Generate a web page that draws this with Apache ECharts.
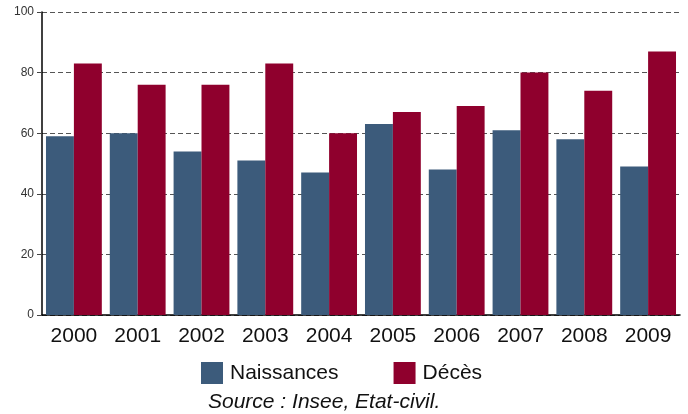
<!DOCTYPE html>
<html><head><meta charset="utf-8">
<script src="https://cdn.jsdelivr.net/npm/echarts@6/dist/echarts.min.js"></script>
<style>html,body{margin:0;padding:0;background:#fff}#c{width:688px;height:414px}</style>
</head><body><div id="c"></div>
<script>
const categories = ['2000','2001','2002','2003','2004','2005','2006','2007','2008','2009'];
const naissances = [59,60,54,51,47,63,48,61,58,49];
const deces = [83,76,76,83,60,67,69,80,74,87];
const yTicks = [0,20,40,60,80,100];

const chart = echarts.init(document.getElementById('c'));
chart.setOption({
  animation: false,
  textStyle: { fontFamily: 'Liberation Sans, Arial, sans-serif' },
  grid: { left: 42, right: 8, top: 12, bottom: 99, containLabel: false },
  title: {
    text: 'Source : Insee, Etat-civil.',
    left: 208, top: 390,
    padding: 0,
    textStyle: { fontSize: 21, fontStyle: 'italic', fontWeight: 'normal', color: '#111', fontFamily: 'Liberation Sans, Arial, sans-serif', lineHeight: 24 }
  },
  legend: {
    top: 362, left: 201,
    padding: 0,
    itemWidth: 22, itemHeight: 22, itemGap: 55,
    icon: 'rect',
    textStyle: { fontSize: 21, color: '#111', padding: [0,0,0,2] },
    data: ['Naissances','Décès']
  },
  xAxis: {
    type: 'category', data: categories,
    axisLine: { lineStyle: { color: '#000', width: 1.5 } },
    axisTick: { show: false },
    axisLabel: { fontSize: 21, color: '#111', margin: 11 }
  },
  yAxis: {
    type: 'value', min: 0, max: 100, interval: 20,
    axisLine: { show: true, lineStyle: { color: '#000', width: 1.5 } },
    axisTick: { show: true, length: 5, lineStyle: { color: '#444' } },
    axisLabel: { fontSize: 12, color: '#333', margin: 8, formatter: v => yTicks.includes(v) ? String(v) : '' },
    splitLine: { show: true, lineStyle: { color: '#555', type: [5,3], width: 1 } }
  },
  series: [
    { name: 'Naissances', type: 'bar', data: naissances, barGap: '0%', barCategoryGap: '12.5%', itemStyle: { color: '#3c5b7b' } },
    { name: 'Décès', type: 'bar', data: deces, barGap: '0%', barCategoryGap: '12.5%', itemStyle: { color: '#8f002d' } }
  ]
});
</script></body></html>
